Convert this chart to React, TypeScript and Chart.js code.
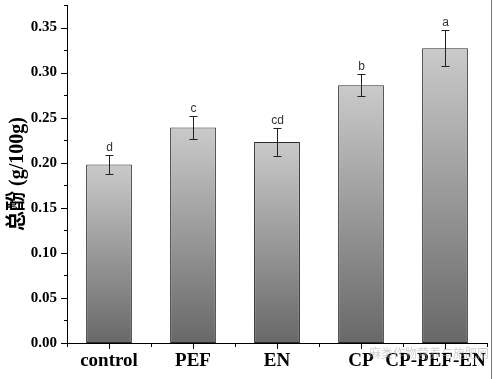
import React, { useEffect, useRef } from "react";
import { Chart, registerables } from "chart.js";

Chart.register(...registerables);

const categories = ["control", "PEF", "EN", "CP", "CP-PEF-EN"];
const values = [0.198, 0.239, 0.223, 0.286, 0.327];
const errors = [0.011, 0.013, 0.015, 0.012, 0.02];
const letters = ["d", "c", "cd", "b", "a"];
const yTickValues = [0, 0.05, 0.1, 0.15, 0.2, 0.25, 0.3, 0.35];
const yTitle = "总酚 (g/100g)";
const watermark = "麻类作物营养与施肥网";

const SERIF = "'Liberation Serif', 'Times New Roman', 'Noto Sans CJK SC', serif";

const decorPlugin = {
  id: "decor",
  afterDatasetsDraw(chart: any) {
    const ctx = chart.ctx;
    const y = chart.scales.y;
    const meta = chart.getDatasetMeta(0);
    ctx.save();
    meta.data.forEach((el: any, i: number) => {
      const v = values[i];
      const e = errors[i];
      const cx = Math.round(el.x) + 0.5;
      const yt = Math.round(y.getPixelForValue(v + e)) + 0.5;
      const yb = Math.round(y.getPixelForValue(v - e)) + 0.5;
      ctx.strokeStyle = "#222";
      ctx.lineWidth = 1;
      ctx.beginPath();
      ctx.moveTo(cx, yt);
      ctx.lineTo(cx, yb);
      ctx.moveTo(cx - 4, yt);
      ctx.lineTo(cx + 4, yt);
      ctx.moveTo(cx - 4, yb);
      ctx.lineTo(cx + 4, yb);
      ctx.stroke();
      ctx.fillStyle = "#333";
      ctx.font = "12px 'Liberation Sans', Arial, sans-serif";
      ctx.textAlign = "center";
      ctx.textBaseline = "bottom";
      ctx.fillText(letters[i], cx, yt - 2);
    });
    ctx.restore();
  },
  afterDraw(chart: any) {
    const ctx = chart.ctx;
    const y = chart.scales.y;
    const x = chart.scales.x;
    const area = chart.chartArea;
    ctx.save();
    ctx.strokeStyle = "#000";
    ctx.lineWidth = 1;
    ctx.beginPath();
    for (let k = 0; k <= 15; k++) {
      const v = k * 0.025;
      const py = Math.round(y.getPixelForValue(v)) + 0.5;
      const len = k % 2 === 0 ? 6 : 3;
      ctx.moveTo(area.left, py);
      ctx.lineTo(area.left - len, py);
    }
    const n = categories.length;
    for (let i = 0; i < n; i++) {
      const px = Math.round(x.getPixelForValue(i)) + 0.5;
      ctx.moveTo(px, area.bottom);
      ctx.lineTo(px, area.bottom + 6);
    }
    for (let i = 0; i <= n; i++) {
      const px = Math.round(x.getPixelForValue(i - 0.5)) + 0.5;
      ctx.moveTo(px, area.bottom);
      ctx.lineTo(px, area.bottom + 4);
    }
    ctx.stroke();
    ctx.strokeStyle = "#777";
    ctx.beginPath();
    ctx.moveTo(491.5, 0);
    ctx.lineTo(491.5, chart.height);
    ctx.stroke();
    ctx.fillStyle = "rgba(170,170,170,0.55)";
    ctx.font = "12px 'Noto Sans CJK SC', sans-serif";
    ctx.textAlign = "left";
    ctx.textBaseline = "middle";
    ctx.fillText(watermark, 369, 353);
    ctx.restore();
  },
};

export default function App() {
  const ref = useRef<HTMLCanvasElement | null>(null);
  useEffect(() => {
    if (!ref.current) return;
    const chart = new Chart(ref.current, {
      type: "bar",
      data: {
        labels: categories,
        datasets: [
          {
            data: values,
            backgroundColor: (c: any) => {
              const ch = c.chart;
              if (!ch.chartArea || c.dataIndex === undefined) return "#999";
              const ys = ch.scales.y;
              const top = ys.getPixelForValue(values[c.dataIndex]);
              const bottom = ys.getPixelForValue(0);
              const g = ch.ctx.createLinearGradient(0, top, 0, bottom);
              g.addColorStop(0, "#cacaca");
              g.addColorStop(1, "#686868");
              return g;
            },
            borderColor: "#2a2a2a",
            borderWidth: 1,
            borderSkipped: false,
            barPercentage: 0.545,
            categoryPercentage: 1,
          },
        ],
      },
      options: {
        responsive: false,
        animation: false,
        devicePixelRatio: 1,
        layout: { padding: { top: 5, right: 7, left: 0, bottom: 0 } },
        plugins: {
          legend: { display: false },
          tooltip: { enabled: false },
        },
        scales: {
          x: {
            type: "category",
            offset: true,
            grid: { display: false, drawTicks: false },
            border: { display: true, color: "#000", width: 1 },
            ticks: {
              color: "#000",
              padding: 7,
              autoSkip: false,
              maxRotation: 0,
              font: { family: SERIF, size: 19, weight: "bold" },
              callback: (v: any, i: number) =>
                i === categories.length - 1 ? categories[i] + "\u2007\u2007" : categories[i],
            },
            afterFit: (s: any) => {
              s.height = 36;
              s.paddingLeft = 0;
              s.paddingRight = 0;
            },
          },
          y: {
            min: 0,
            max: 0.375,
            grid: { display: false, drawTicks: false },
            border: { display: true, color: "#000", width: 1 },
            afterBuildTicks: (s: any) => {
              s.ticks = yTickValues.map((v) => ({ value: v }));
            },
            ticks: {
              color: "#000",
              padding: 10,
              font: { family: SERIF, size: 15, weight: "bold" },
              callback: (v: any) => Number(v).toFixed(2),
            },
            title: {
              display: true,
              text: yTitle,
              color: "#000",
              padding: { top: 6, bottom: 0 },
              font: { family: SERIF, size: 20, weight: "bold" },
            },
            afterFit: (s: any) => {
              s.width = 67;
              s.paddingTop = 0;
              s.paddingBottom = 0;
            },
          },
        },
      },
      plugins: [decorPlugin],
    });
    return () => chart.destroy();
  }, []);
  return (
    <div style={{ position: "absolute", left: 0, top: 0, width: 494, height: 379, background: "#fff" }}>
      <canvas ref={ref} width={494} height={379} style={{ display: "block" }} />
    </div>
  );
}
